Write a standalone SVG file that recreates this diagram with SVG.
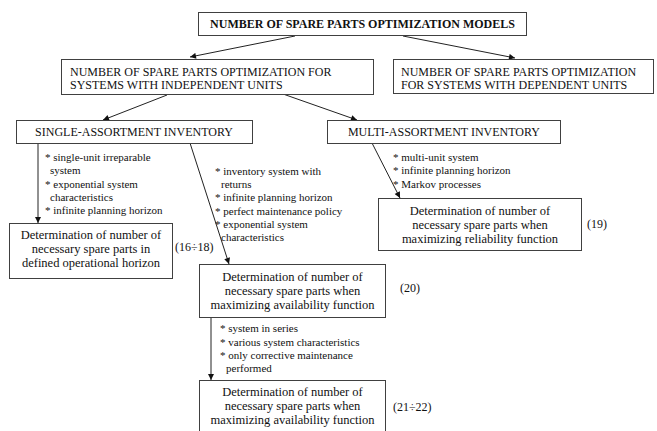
<svg xmlns="http://www.w3.org/2000/svg" width="657" height="431" viewBox="0 0 657 431" font-family="'Liberation Serif', 'Times New Roman', 'DejaVu Serif', serif">
<defs>
<marker id="ah" viewBox="0 0 10 10" refX="10" refY="5" markerWidth="7" markerHeight="6" markerUnits="userSpaceOnUse" orient="auto">
<path d="M0,0 L10,5 L0,10 z" fill="#111"/>
</marker>
<style>
text{font-family:'Liberation Serif','Times New Roman','DejaVu Serif',serif;fill:#111}
.box{fill:#fff;stroke:#404040;stroke-width:1}
.t{font-size:12px}
.tb{font-size:12px;font-weight:bold}
.d{font-size:12.5px;text-anchor:middle}
.b{font-size:11px}
.n{font-size:12px}
.c{text-anchor:middle}
.ln{stroke:#222;stroke-width:1;fill:none;marker-end:url(#ah)}
</style>
</defs>
<rect width="657" height="431" fill="#fff"/>
<g id="connectors">
<line class="ln" x1="295" y1="36" x2="190" y2="57"/>
<line class="ln" x1="403" y1="36" x2="515" y2="58"/>
<line class="ln" x1="167" y1="95" x2="103" y2="120"/>
<line class="ln" x1="283" y1="94" x2="357" y2="120"/>
<line class="ln" x1="38" y1="143" x2="38" y2="223"/>
<line class="ln" x1="190" y1="143" x2="229" y2="264"/>
<line class="ln" x1="372" y1="143" x2="400" y2="198"/>
<line class="ln" x1="211" y1="317" x2="211" y2="380"/>
</g>
<g id="root">
<rect class="box" x="198.5" y="12.5" width="328" height="23"/>
<text class="tb c" x="362.5" y="28">NUMBER OF SPARE PARTS OPTIMIZATION MODELS</text>
</g>
<g id="independent">
<rect class="box" x="61.5" y="59.5" width="312" height="35"/>
<text class="t" x="70" y="76">NUMBER OF SPARE PARTS OPTIMIZATION FOR</text>
<text class="t" x="70" y="89">SYSTEMS WITH INDEPENDENT UNITS</text>
</g>
<g id="dependent">
<rect class="box" x="393.5" y="59.5" width="260" height="34"/>
<text class="t" x="401" y="76">NUMBER OF SPARE PARTS OPTIMIZATION</text>
<text class="t" x="401" y="89">FOR SYSTEMS WITH DEPENDENT UNITS</text>
</g>
<g id="single">
<rect class="box" x="16.5" y="120.5" width="236" height="23"/>
<text class="t c" x="134" y="136">SINGLE-ASSORTMENT INVENTORY</text>
</g>
<g id="multi">
<rect class="box" x="327.5" y="120.5" width="233" height="23"/>
<text class="t c" x="444" y="136">MULTI-ASSORTMENT INVENTORY</text>
</g>
<g id="cond-single">
<text class="b" x="45" y="161">* single-unit irreparable</text>
<text class="b" x="50" y="174">system</text>
<text class="b" x="45" y="188">* exponential system</text>
<text class="b" x="50" y="201">characteristics</text>
<text class="b" x="45" y="214">* infinite planning horizon</text>
</g>
<g id="cond-returns">
<text class="b" x="215" y="175">* inventory system with</text>
<text class="b" x="221" y="188">returns</text>
<text class="b" x="215" y="201">* infinite planning horizon</text>
<text class="b" x="215" y="215">* perfect maintenance policy</text>
<text class="b" x="215" y="228">* exponential system</text>
<text class="b" x="221" y="241">characteristics</text>
</g>
<g id="cond-multi">
<text class="b" x="393" y="161">* multi-unit system</text>
<text class="b" x="393" y="174">* infinite planning horizon</text>
<text class="b" x="393" y="188">* Markov processes</text>
</g>
<g id="box-horizon">
<rect class="box" x="9.5" y="223.5" width="163" height="55"/>
<text class="d" x="91" y="239">Determination of number of</text>
<text class="d" x="91" y="253">necessary spare parts in</text>
<text class="d" x="91" y="267">defined operational horizon</text>
<text class="n" x="175" y="251">(16÷18)</text>
</g>
<g id="box-reliability">
<rect class="box" x="378.5" y="198.5" width="203" height="52"/>
<text class="d" x="480" y="215">Determination of number of</text>
<text class="d" x="480" y="229">necessary spare parts when</text>
<text class="d" x="480" y="243">maximizing reliability function</text>
<text class="n" x="587" y="228">(19)</text>
</g>
<g id="box-availability">
<rect class="box" x="199.5" y="264.5" width="186" height="53"/>
<text class="d" x="292.5" y="281">Determination of number of</text>
<text class="d" x="292.5" y="295">necessary spare parts when</text>
<text class="d" x="292.5" y="309">maximizing availability function</text>
<text class="n" x="400" y="292">(20)</text>
</g>
<g id="cond-series">
<text class="b" x="220" y="332">* system in series</text>
<text class="b" x="220" y="346">* various system characteristics</text>
<text class="b" x="220" y="359">* only corrective maintenance</text>
<text class="b" x="226" y="372">performed</text>
</g>
<g id="box-availability-series">
<rect class="box" x="199.5" y="380.5" width="186" height="60"/>
<text class="d" x="292.5" y="396">Determination of number of</text>
<text class="d" x="292.5" y="410">necessary spare parts when</text>
<text class="d" x="292.5" y="424">maximizing availability function</text>
<text class="n" x="393" y="411">(21÷22)</text>
</g>
</svg>
